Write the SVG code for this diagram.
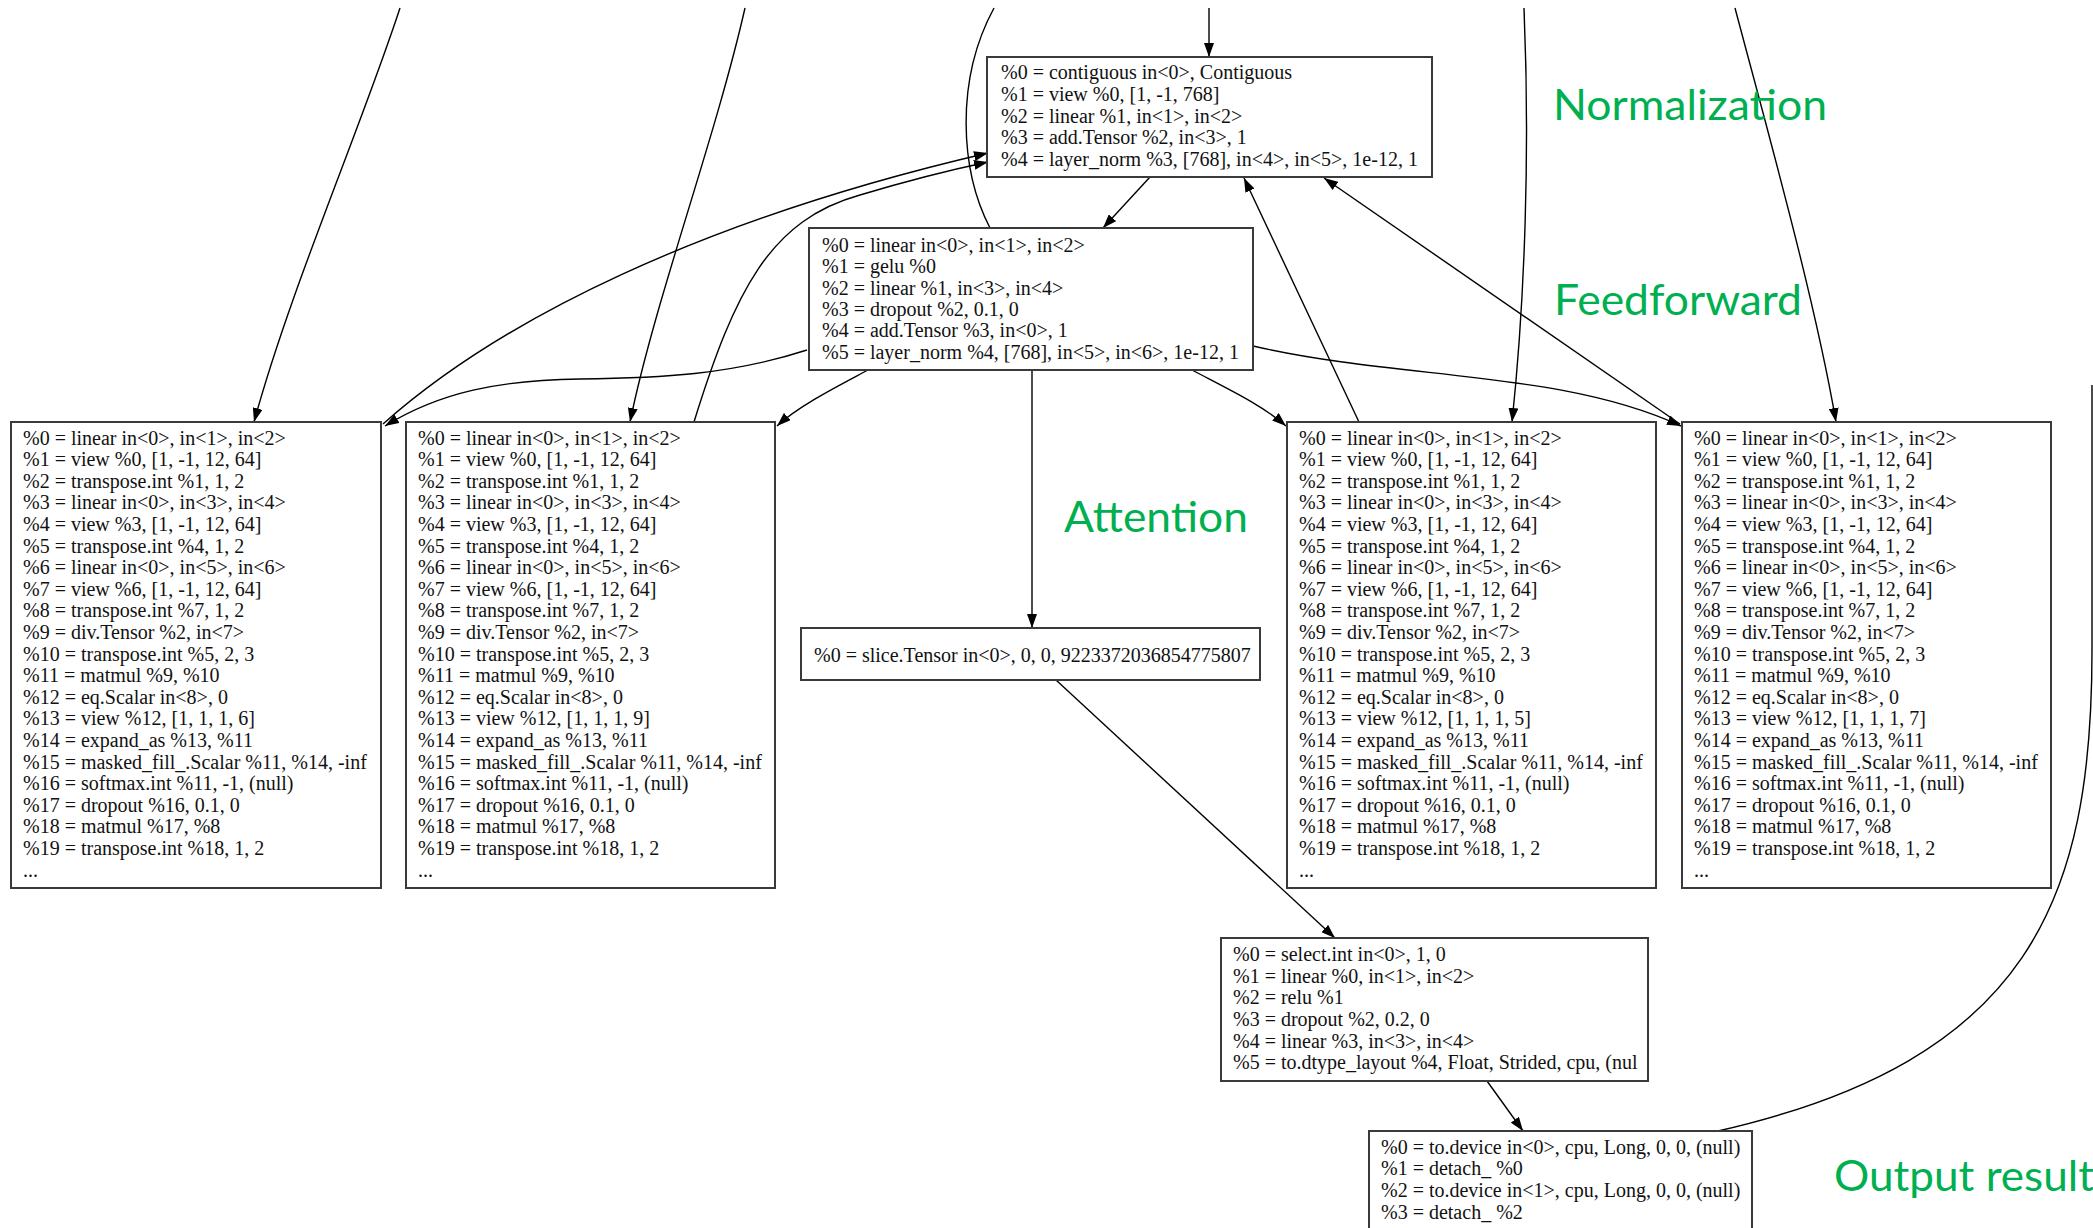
<svg xmlns="http://www.w3.org/2000/svg" width="2093" height="1228" viewBox="0 0 2093 1228">
  <style>
    .box { fill: #ffffff; stroke: #3a3a3a; stroke-width: 2; }
    .code { font-family: "Liberation Serif", "Times New Roman", serif; font-size: 20px; fill: #111111; }
    .edge { fill: none; stroke: #000000; stroke-width: 1.4; }
    .tag { font-family: "Lato", "Open Sans", sans-serif; font-size: 43px; fill: #00B050; }
  </style>
  <defs>
    <marker id="ah" viewBox="0 0 14 10" markerWidth="14" markerHeight="10" refX="14" refY="5" orient="auto" markerUnits="userSpaceOnUse">
      <path d="M0,0 L14,5 L0,10 z" fill="#000000"/>
    </marker>
  </defs>

  <rect x="0" y="0" width="2093" height="1228" fill="#ffffff"/>

  <!-- connectors -->
  <g id="edges">
    <path class="edge" d="M1209 8 L1209 57" marker-end="url(#ah)"/>
    <path class="edge" d="M1150 177 L1103 228" marker-end="url(#ah)"/>
    <path class="edge" d="M1359 422 L1244 178" marker-end="url(#ah)"/>
    <path class="edge" d="M1680 424 L1324 178" marker-end="url(#ah)"/>
    <path class="edge" d="M1253 346 C1400 380 1560 370 1681 426" marker-end="url(#ah)"/>
    <path class="edge" d="M383 424 C500 320 700 220 988 153" marker-end="url(#ah)"/>
    <path class="edge" d="M807 350 C730 375 660 378 580 379 C500 380 440 392 385 426" marker-end="url(#ah)"/>
    <path class="edge" d="M694 422 C735 290 770 220 860 195 C910 180 950 170 988 162" marker-end="url(#ah)"/>
    <path class="edge" d="M868 370 C840 385 800 405 777 426" marker-end="url(#ah)"/>
    <path class="edge" d="M1032 370 L1032 628" marker-end="url(#ah)"/>
    <path class="edge" d="M1192 370 C1230 390 1262 405 1286 426" marker-end="url(#ah)"/>
    <path class="edge" d="M1524 8 C1530 150 1525 300 1512 422" marker-end="url(#ah)"/>
    <path class="edge" d="M1735 8 C1770 140 1815 300 1836 422" marker-end="url(#ah)"/>
    <path class="edge" d="M400 8 C360 130 290 290 254 422" marker-end="url(#ah)"/>
    <path class="edge" d="M745 8 C715 140 655 300 630 422" marker-end="url(#ah)"/>
    <path class="edge" d="M994 8 C955 80 960 170 990 228"/>
    <path class="edge" d="M2092 385 L2092 650 C2092 900 2030 1060 1718 1131"/>
    <path class="edge" d="M1056 680 L1335 938" marker-end="url(#ah)"/>
    <path class="edge" d="M1487 1081 L1523 1131" marker-end="url(#ah)"/>
  </g>

  <!-- normalization node -->
  <g id="node-norm">
    <rect class="box" x="987" y="57" width="445" height="120"/>
    <text class="code" x="1001" y="79">%0 = contiguous in&lt;0&gt;, Contiguous</text>
    <text class="code" x="1001" y="100.75">%1 = view %0, [1, -1, 768]</text>
    <text class="code" x="1001" y="122.5">%2 = linear %1, in&lt;1&gt;, in&lt;2&gt;</text>
    <text class="code" x="1001" y="144.25">%3 = add.Tensor %2, in&lt;3&gt;, 1</text>
    <text class="code" x="1001" y="166">%4 = layer_norm %3, [768], in&lt;4&gt;, in&lt;5&gt;, 1e-12, 1</text>
  </g>

  <!-- feedforward node -->
  <g id="node-ffn">
    <rect class="box" x="809" y="228" width="444" height="142"/>
    <text class="code" x="822" y="252">%0 = linear in&lt;0&gt;, in&lt;1&gt;, in&lt;2&gt;</text>
    <text class="code" x="822" y="273.3">%1 = gelu %0</text>
    <text class="code" x="822" y="294.6">%2 = linear %1, in&lt;3&gt;, in&lt;4&gt;</text>
    <text class="code" x="822" y="315.9">%3 = dropout %2, 0.1, 0</text>
    <text class="code" x="822" y="337.2">%4 = add.Tensor %3, in&lt;0&gt;, 1</text>
    <text class="code" x="822" y="358.5">%5 = layer_norm %4, [768], in&lt;5&gt;, in&lt;6&gt;, 1e-12, 1</text>
  </g>

  <!-- attention nodes -->
  <g id="node-attn-1">
    <rect class="box" x="11" y="422" width="370" height="466"/>
    <text class="code" x="23" y="444.5">%0 = linear in&lt;0&gt;, in&lt;1&gt;, in&lt;2&gt;</text>
    <text class="code" x="23" y="466.1">%1 = view %0, [1, -1, 12, 64]</text>
    <text class="code" x="23" y="487.7">%2 = transpose.int %1, 1, 2</text>
    <text class="code" x="23" y="509.3">%3 = linear in&lt;0&gt;, in&lt;3&gt;, in&lt;4&gt;</text>
    <text class="code" x="23" y="530.9">%4 = view %3, [1, -1, 12, 64]</text>
    <text class="code" x="23" y="552.5">%5 = transpose.int %4, 1, 2</text>
    <text class="code" x="23" y="574.1">%6 = linear in&lt;0&gt;, in&lt;5&gt;, in&lt;6&gt;</text>
    <text class="code" x="23" y="595.7">%7 = view %6, [1, -1, 12, 64]</text>
    <text class="code" x="23" y="617.3">%8 = transpose.int %7, 1, 2</text>
    <text class="code" x="23" y="638.9">%9 = div.Tensor %2, in&lt;7&gt;</text>
    <text class="code" x="23" y="660.5">%10 = transpose.int %5, 2, 3</text>
    <text class="code" x="23" y="682.1">%11 = matmul %9, %10</text>
    <text class="code" x="23" y="703.7">%12 = eq.Scalar in&lt;8&gt;, 0</text>
    <text class="code" x="23" y="725.3">%13 = view %12, [1, 1, 1, 6]</text>
    <text class="code" x="23" y="746.9">%14 = expand_as %13, %11</text>
    <text class="code" x="23" y="768.5">%15 = masked_fill_.Scalar %11, %14, -inf</text>
    <text class="code" x="23" y="790.1">%16 = softmax.int %11, -1, (null)</text>
    <text class="code" x="23" y="811.7">%17 = dropout %16, 0.1, 0</text>
    <text class="code" x="23" y="833.3">%18 = matmul %17, %8</text>
    <text class="code" x="23" y="854.9">%19 = transpose.int %18, 1, 2</text>
    <text class="code" x="23" y="876.5">...</text>
  </g>

  <g id="node-attn-2">
    <rect class="box" x="406" y="422" width="369" height="466"/>
    <text class="code" x="418" y="444.5">%0 = linear in&lt;0&gt;, in&lt;1&gt;, in&lt;2&gt;</text>
    <text class="code" x="418" y="466.1">%1 = view %0, [1, -1, 12, 64]</text>
    <text class="code" x="418" y="487.7">%2 = transpose.int %1, 1, 2</text>
    <text class="code" x="418" y="509.3">%3 = linear in&lt;0&gt;, in&lt;3&gt;, in&lt;4&gt;</text>
    <text class="code" x="418" y="530.9">%4 = view %3, [1, -1, 12, 64]</text>
    <text class="code" x="418" y="552.5">%5 = transpose.int %4, 1, 2</text>
    <text class="code" x="418" y="574.1">%6 = linear in&lt;0&gt;, in&lt;5&gt;, in&lt;6&gt;</text>
    <text class="code" x="418" y="595.7">%7 = view %6, [1, -1, 12, 64]</text>
    <text class="code" x="418" y="617.3">%8 = transpose.int %7, 1, 2</text>
    <text class="code" x="418" y="638.9">%9 = div.Tensor %2, in&lt;7&gt;</text>
    <text class="code" x="418" y="660.5">%10 = transpose.int %5, 2, 3</text>
    <text class="code" x="418" y="682.1">%11 = matmul %9, %10</text>
    <text class="code" x="418" y="703.7">%12 = eq.Scalar in&lt;8&gt;, 0</text>
    <text class="code" x="418" y="725.3">%13 = view %12, [1, 1, 1, 9]</text>
    <text class="code" x="418" y="746.9">%14 = expand_as %13, %11</text>
    <text class="code" x="418" y="768.5">%15 = masked_fill_.Scalar %11, %14, -inf</text>
    <text class="code" x="418" y="790.1">%16 = softmax.int %11, -1, (null)</text>
    <text class="code" x="418" y="811.7">%17 = dropout %16, 0.1, 0</text>
    <text class="code" x="418" y="833.3">%18 = matmul %17, %8</text>
    <text class="code" x="418" y="854.9">%19 = transpose.int %18, 1, 2</text>
    <text class="code" x="418" y="876.5">...</text>
  </g>

  <g id="node-attn-3">
    <rect class="box" x="1287" y="422" width="369" height="466"/>
    <text class="code" x="1299" y="444.5">%0 = linear in&lt;0&gt;, in&lt;1&gt;, in&lt;2&gt;</text>
    <text class="code" x="1299" y="466.1">%1 = view %0, [1, -1, 12, 64]</text>
    <text class="code" x="1299" y="487.7">%2 = transpose.int %1, 1, 2</text>
    <text class="code" x="1299" y="509.3">%3 = linear in&lt;0&gt;, in&lt;3&gt;, in&lt;4&gt;</text>
    <text class="code" x="1299" y="530.9">%4 = view %3, [1, -1, 12, 64]</text>
    <text class="code" x="1299" y="552.5">%5 = transpose.int %4, 1, 2</text>
    <text class="code" x="1299" y="574.1">%6 = linear in&lt;0&gt;, in&lt;5&gt;, in&lt;6&gt;</text>
    <text class="code" x="1299" y="595.7">%7 = view %6, [1, -1, 12, 64]</text>
    <text class="code" x="1299" y="617.3">%8 = transpose.int %7, 1, 2</text>
    <text class="code" x="1299" y="638.9">%9 = div.Tensor %2, in&lt;7&gt;</text>
    <text class="code" x="1299" y="660.5">%10 = transpose.int %5, 2, 3</text>
    <text class="code" x="1299" y="682.1">%11 = matmul %9, %10</text>
    <text class="code" x="1299" y="703.7">%12 = eq.Scalar in&lt;8&gt;, 0</text>
    <text class="code" x="1299" y="725.3">%13 = view %12, [1, 1, 1, 5]</text>
    <text class="code" x="1299" y="746.9">%14 = expand_as %13, %11</text>
    <text class="code" x="1299" y="768.5">%15 = masked_fill_.Scalar %11, %14, -inf</text>
    <text class="code" x="1299" y="790.1">%16 = softmax.int %11, -1, (null)</text>
    <text class="code" x="1299" y="811.7">%17 = dropout %16, 0.1, 0</text>
    <text class="code" x="1299" y="833.3">%18 = matmul %17, %8</text>
    <text class="code" x="1299" y="854.9">%19 = transpose.int %18, 1, 2</text>
    <text class="code" x="1299" y="876.5">...</text>
  </g>

  <g id="node-attn-4">
    <rect class="box" x="1682" y="422" width="369" height="466"/>
    <text class="code" x="1694" y="444.5">%0 = linear in&lt;0&gt;, in&lt;1&gt;, in&lt;2&gt;</text>
    <text class="code" x="1694" y="466.1">%1 = view %0, [1, -1, 12, 64]</text>
    <text class="code" x="1694" y="487.7">%2 = transpose.int %1, 1, 2</text>
    <text class="code" x="1694" y="509.3">%3 = linear in&lt;0&gt;, in&lt;3&gt;, in&lt;4&gt;</text>
    <text class="code" x="1694" y="530.9">%4 = view %3, [1, -1, 12, 64]</text>
    <text class="code" x="1694" y="552.5">%5 = transpose.int %4, 1, 2</text>
    <text class="code" x="1694" y="574.1">%6 = linear in&lt;0&gt;, in&lt;5&gt;, in&lt;6&gt;</text>
    <text class="code" x="1694" y="595.7">%7 = view %6, [1, -1, 12, 64]</text>
    <text class="code" x="1694" y="617.3">%8 = transpose.int %7, 1, 2</text>
    <text class="code" x="1694" y="638.9">%9 = div.Tensor %2, in&lt;7&gt;</text>
    <text class="code" x="1694" y="660.5">%10 = transpose.int %5, 2, 3</text>
    <text class="code" x="1694" y="682.1">%11 = matmul %9, %10</text>
    <text class="code" x="1694" y="703.7">%12 = eq.Scalar in&lt;8&gt;, 0</text>
    <text class="code" x="1694" y="725.3">%13 = view %12, [1, 1, 1, 7]</text>
    <text class="code" x="1694" y="746.9">%14 = expand_as %13, %11</text>
    <text class="code" x="1694" y="768.5">%15 = masked_fill_.Scalar %11, %14, -inf</text>
    <text class="code" x="1694" y="790.1">%16 = softmax.int %11, -1, (null)</text>
    <text class="code" x="1694" y="811.7">%17 = dropout %16, 0.1, 0</text>
    <text class="code" x="1694" y="833.3">%18 = matmul %17, %8</text>
    <text class="code" x="1694" y="854.9">%19 = transpose.int %18, 1, 2</text>
    <text class="code" x="1694" y="876.5">...</text>
  </g>

  <!-- slice node -->
  <g id="node-slice">
    <rect class="box" x="801" y="628" width="459" height="52"/>
    <text class="code" x="814" y="662">%0 = slice.Tensor in&lt;0&gt;, 0, 0, 9223372036854775807</text>
  </g>

  <!-- classifier head node -->
  <g id="node-head">
    <rect class="box" x="1221" y="938" width="427" height="143"/>
    <text class="code" x="1233" y="961">%0 = select.int in&lt;0&gt;, 1, 0</text>
    <text class="code" x="1233" y="982.65">%1 = linear %0, in&lt;1&gt;, in&lt;2&gt;</text>
    <text class="code" x="1233" y="1004.3">%2 = relu %1</text>
    <text class="code" x="1233" y="1025.95">%3 = dropout %2, 0.2, 0</text>
    <text class="code" x="1233" y="1047.6">%4 = linear %3, in&lt;3&gt;, in&lt;4&gt;</text>
    <text class="code" x="1233" y="1069.25">%5 = to.dtype_layout %4, Float, Strided, cpu, (nul</text>
  </g>

  <!-- output node -->
  <g id="node-output">
    <rect class="box" x="1369" y="1131" width="383" height="110"/>
    <text class="code" x="1381" y="1153.5">%0 = to.device in&lt;0&gt;, cpu, Long, 0, 0, (null)</text>
    <text class="code" x="1381" y="1175.2">%1 = detach_ %0</text>
    <text class="code" x="1381" y="1196.9">%2 = to.device in&lt;1&gt;, cpu, Long, 0, 0, (null)</text>
    <text class="code" x="1381" y="1218.6">%3 = detach_ %2</text>
  </g>

  <!-- section labels -->
  <g id="labels">
    <text class="tag" x="1553" y="120" textLength="274" lengthAdjust="spacingAndGlyphs">Normalization</text>
    <text class="tag" x="1554" y="315" textLength="248" lengthAdjust="spacingAndGlyphs">Feedforward</text>
    <text class="tag" x="1064" y="532" textLength="184" lengthAdjust="spacingAndGlyphs">Attention</text>
    <text class="tag" x="1834" y="1191" textLength="260" lengthAdjust="spacingAndGlyphs">Output result</text>
  </g>
</svg>
